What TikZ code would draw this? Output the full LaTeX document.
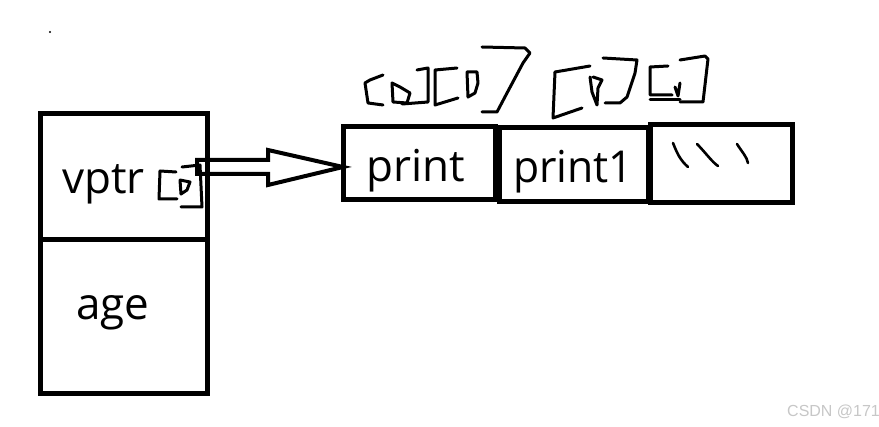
\documentclass[tikz,border=0pt]{standalone}
\usepackage{fontspec}
\usetikzlibrary{calc}
\setmainfont{Open Sans}
\newfontfamily\wmfont{Liberation Sans}
\begin{document}
\begin{tikzpicture}[x=1pt,y=-1pt,
  boxn/.style={draw, line width=5pt, rectangle, inner sep=0pt, outer sep=0pt},
  lbl/.style={font=\fontsize{44}{44}\selectfont, anchor=base west, inner sep=0pt},
  scrib/.style={line width=3pt, line cap=round, line join=round},
  blk/.style={line width=4pt, line join=miter}]
\useasboundingbox (0,0) rectangle (879,427);
\clip (0,0) rectangle (879,427);
\fill[white] (0,0) rectangle (879,427);
% left object
\node[boxn, minimum width=167pt, minimum height=126pt] (vb) at (123.5,177) {};
\node[boxn, minimum width=167pt, minimum height=154pt] (ab) at (123.5,317) {};
\node[lbl] (vt) at (62,194) {vptr};
\node[lbl] (at) at (76,320) {age};
% vtable
\node[boxn, minimum width=152pt, minimum height=73pt] (pb) at (419,163.5) {};
\node[boxn, minimum width=149pt, minimum height=74pt] (p1b) at (573.5,165) {};
\node[boxn, minimum width=142pt, minimum height=78pt] (eb) at (721,164) {};
\node[lbl] (pt) at (366,182) {print};
\node[lbl, xscale=0.97] (p1t) at (513,183) {print1};
% block arrow
\coordinate (as) at (197,167);
\coordinate (tip) at (pb.west |- as);
\draw[blk] (as) -- ++(0,-7) -- ++(71,0) -- ++(0,-10) -- (tip)
  -- ($(as)+(71,18)$) -- ++(0,-11) -- ++(-71,0) -- cycle;
% scribble next to vptr
\draw[scrib] (176,172) -- (160,171) -- (159,199) -- (177,199);
\draw[scrib] (180,180) -- (181,194) -- (187,190) -- (190,182) -- (180,180);
\draw[scrib] (182,167) -- (200,165) -- (202,207) -- (181,207);
% scribbles above the table
\draw[scrib] (383,75) -- (370,80) -- (365,83) -- (368,103) -- (383,105);
\draw[scrib] (392,83) -- (393,102) -- (407,103) -- (410,93) -- (400,87) -- (392,83);
\draw[scrib] (417,70) -- (428,68) -- (428,102) -- (402,104);
\draw[scrib] (457,68) -- (435,70) -- (435,105) -- (458,98);
\draw[scrib] (467,72) -- (468,97) -- (475,93) -- (478,83) -- (477,72) -- (467,72);
\draw[scrib] (482,47) -- (525,48) -- (530,53) -- (523,63) -- (507,93) -- (497,112) -- (482,112);
\draw[scrib] (555,72) -- (590,66);
\draw[scrib] (555,72) -- (553,118) -- (582,108);
\draw[scrib] (590,77) -- (592,92) -- (597,105) -- (598,88) -- (602,80) -- (593,77);
\draw[scrib] (603,58) -- (637,60) -- (635,73) -- (627,97) -- (620,103) -- (605,103);
\draw[scrib] (668,66) -- (650,67) -- (650,95) -- (672,95);
\draw[scrib] (650,100) -- (680,100);
\draw[scrib] (675,87) -- (678,96) -- (680,83);
\draw[scrib] (680,60) -- (705,56) -- (708,59) -- (703,102) -- (680,102);
% marks in third cell
\draw[line width=2.6pt, line cap=round] (673,143) .. controls (677,153) and (680,160) .. (688,167);
\draw[line width=2.6pt, line cap=round] (697,144) .. controls (705,152) and (712,162) .. (718,166);
\draw[line width=2.6pt, line cap=round] (737,144) .. controls (742,152) and (747,157) .. (748,163);
% dot
\fill (50,32) circle (1.2);
% watermark
\node[font=\wmfont\fontsize{16}{16}\selectfont, text=black!22, anchor=base west, inner sep=0pt] (wm) at (787,417) {CSDN @171};
\end{tikzpicture}
\end{document}
